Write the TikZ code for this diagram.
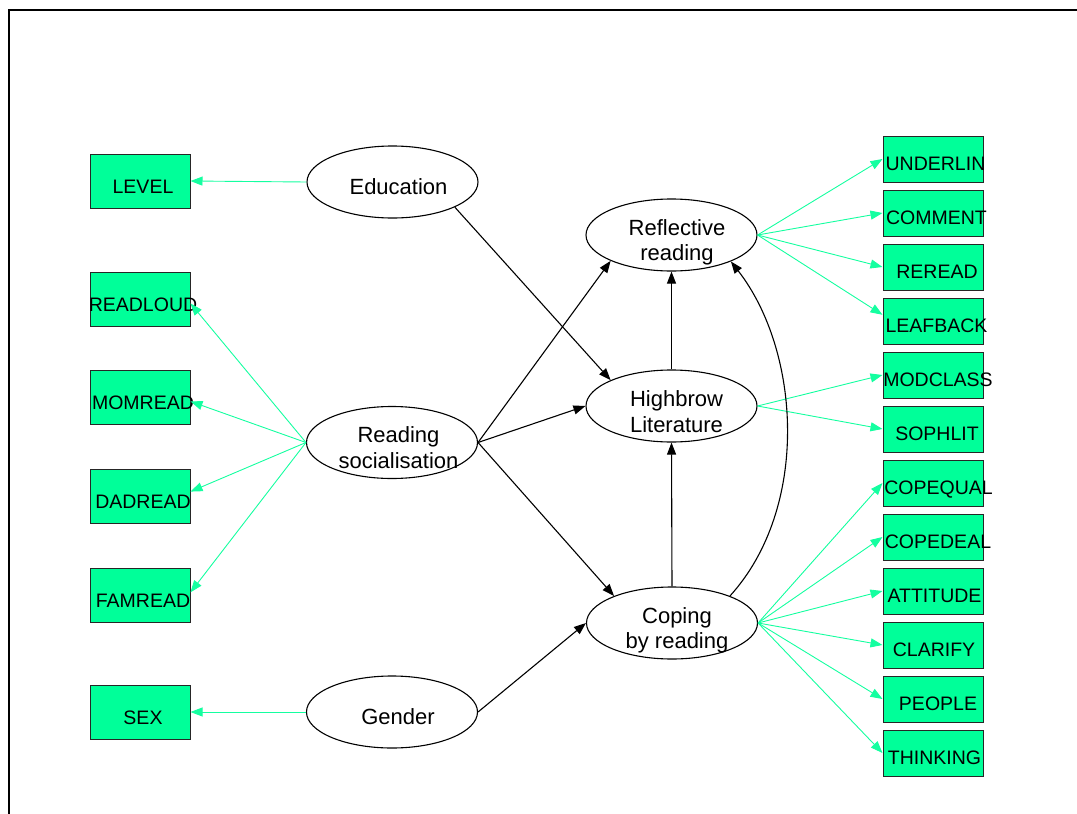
\documentclass[tikz,border=0pt]{standalone}
\usepackage{fontspec}
\setmainfont{Liberation Sans}
\usetikzlibrary{arrows.meta,shapes.geometric}
\definecolor{boxgreen}{RGB}{0,255,153}
\definecolor{linegreen}{RGB}{20,255,160}
\begin{document}
\begin{tikzpicture}[x=1pt,y=-1pt,
  latent/.style={ellipse,draw=black,line width=1.1pt,minimum width=171pt,minimum height=72pt,inner sep=0pt},
  lbox/.style={rectangle,draw=black!85,line width=1pt,fill=boxgreen,minimum width=100pt,minimum height=54pt,inner sep=0pt},
  rbox/.style={lbox,minimum height=46pt},
  boxtext/.style={font=\fontsize{19.5}{23}\selectfont,inner sep=0pt,anchor=base},
  lattext/.style={font=\fontsize{22}{25.3}\selectfont,align=center,inner sep=0pt},
  garrow/.style={draw=linegreen,line width=0.9pt,-{Triangle[length=12pt,width=9pt]}},
  barrow/.style={draw=black,line width=1.1pt,-{Triangle[length=12pt,width=9pt]}},
  frameline/.style={draw=black,line width=2pt}
]
\useasboundingbox (0,0) rectangle (1077,814);
\draw[frameline] (1077,10) -- (9,10) -- (9,814);

% latent variables
\node[latent] (edu) at (392.5,182) {};
\node[latent] (soc) at (392,442.5) {};
\node[latent] (gen) at (392,712) {};
\node[latent] (refl) at (671.5,235) {};
\node[latent] (high) at (671.5,406) {};
\node[latent] (cope) at (672,623) {};

\node[lattext,anchor=base] (tedu) at (398.5,194) {Education};
\node[lattext,anchor=base] (tgen) at (398,724) {Gender};
\node[lattext] (tsoc) at (398.5,447.6) {Reading\\socialisation};
\node[lattext] (trefl) at (677,242) {Reflective\\reading};
\node[lattext] (thigh) at (676.5,411.6) {Highbrow\\Literature};
\node[lattext] (tcope) at (677,630) {Coping\\by reading};

% left indicator boxes
\node[lbox] (level) at (140,181) {};
\node[lbox] (readloud) at (140,299) {};
\node[lbox] (momread) at (140,397) {};
\node[lbox] (dadread) at (140,496) {};
\node[lbox] (famread) at (140,595) {};
\node[lbox] (sex) at (140,712) {};

\node[boxtext] (tlevel) at (143,193) {LEVEL};
\node[boxtext] (treadloud) at (143,311) {READLOUD};
\node[boxtext] (tmomread) at (143,409) {MOMREAD};
\node[boxtext] (tdadread) at (143,508) {DADREAD};
\node[boxtext] (tfamread) at (143,607) {FAMREAD};
\node[boxtext] (tsex) at (143,724) {SEX};

% right indicator boxes
\node[rbox] (underlin) at (933,159) {};
\node[rbox] (comment) at (933,213) {};
\node[rbox] (reread) at (933,267) {};
\node[rbox] (leafback) at (933,321) {};
\node[rbox] (modclass) at (933,375) {};
\node[rbox] (sophlit) at (933,429) {};
\node[rbox] (copequal) at (933,483) {};
\node[rbox] (copedeal) at (933,537) {};
\node[rbox] (attitude) at (933,591) {};
\node[rbox] (clarify) at (933,645) {};
\node[rbox] (people) at (933,699) {};
\node[rbox] (thinking) at (933,753) {};

\node[boxtext] (tunderlin) at (935.5,170) {UNDERLIN};
\node[boxtext] (tcomment) at (936.5,224) {COMMENT};
\node[boxtext] (treread) at (937,278) {REREAD};
\node[boxtext] (tleafback) at (936.5,332) {LEAFBACK};
\node[boxtext] (tmodclass) at (938,386) {MODCLASS};
\node[boxtext] (tsophlit) at (937,440) {SOPHLIT};
\node[boxtext] (tcopequal) at (938.5,494) {COPEQUAL};
\node[boxtext] (tcopedeal) at (938,548) {COPEDEAL};
\node[boxtext] (tattitude) at (934.5,602) {ATTITUDE};
\node[boxtext] (tclarify) at (934,656) {CLARIFY};
\node[boxtext] (tpeople) at (938,710) {PEOPLE};
\node[boxtext] (tthinking) at (934.5,764) {THINKING};

% green measurement arrows
\draw[garrow] (edu.west) -- (level.east);
\draw[garrow] (soc.west) -- (readloud.-5);
\draw[garrow] (soc.west) -- (momread.-5);
\draw[garrow] (soc.west) -- (dadread.5);
\draw[garrow] (soc.west) -- (famread.3);
\draw[garrow] (gen.west) -- (sex.east);

\draw[garrow] (refl.east) -- (underlin.west);
\draw[garrow] (refl.east) -- (comment.west);
\draw[garrow] (refl.east) -- (reread.west);
\draw[garrow] (refl.east) -- (leafback.173);
\draw[garrow] (high.east) -- (modclass.west);
\draw[garrow] (high.east) -- (sophlit.west);
\draw[garrow] (cope.east) -- (copequal.west);
\draw[garrow] (cope.east) -- (copedeal.west);
\draw[garrow] (cope.east) -- (attitude.west);
\draw[garrow] (cope.east) -- (clarify.west);
\draw[garrow] (cope.east) -- (people.west);
\draw[garrow] (cope.east) -- (thinking.west);

% structural arrows
\draw[barrow] (edu.-22.5) -- (high.157.4);
\draw[barrow] (soc.east) -- (refl.203.7);
\draw[barrow] (soc.east) -- (high.west);
\draw[barrow] (soc.east) -- (cope.155.7);
\draw[barrow] (gen.east) -- (cope.west);
\draw[barrow] (high.north) -- (refl.south);
\draw[barrow] (cope.north) -- (high.south);
\draw[barrow] (cope.25.8) .. controls +(80,-88) and +(70,90) .. (refl.-24.5);
\end{tikzpicture}
\end{document}
